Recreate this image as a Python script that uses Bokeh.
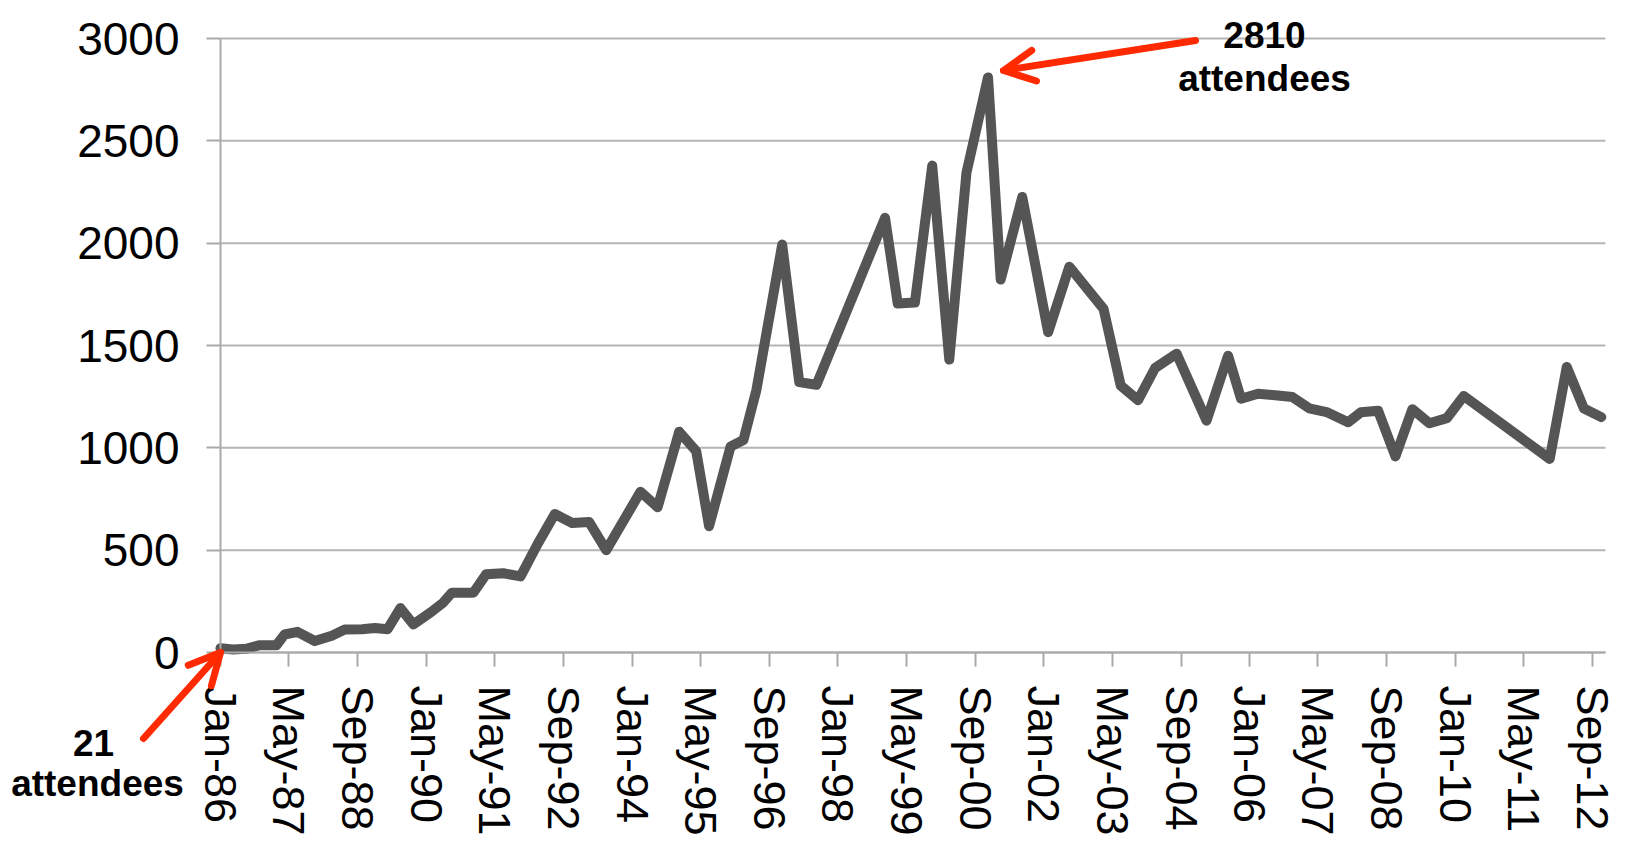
import pandas as pd
from bokeh.plotting import figure
from bokeh.models import (Range1d, FixedTicker, DatetimeTickFormatter, Arrow,
                          OpenHead, Label, ColumnDataSource)
from bokeh.embed import file_html
from bokeh.resources import INLINE

# ---------------- data ----------------
meeting_months = [
    "1986-01", "1986-04", "1986-07", "1986-10", "1987-02", "1987-04", "1987-07",
    "1987-11", "1988-03", "1988-06", "1988-10", "1989-01", "1989-04", "1989-07",
    "1989-10", "1990-02", "1990-05", "1990-07", "1990-12", "1991-03", "1991-07",
    "1991-11", "1992-03", "1992-07", "1992-11", "1993-03", "1993-07", "1994-03",
    "1994-07", "1994-12", "1995-04", "1995-07", "1995-12", "1996-03", "1996-06",
    "1996-12", "1997-04", "1997-08", "1998-12", "1999-03", "1999-07", "1999-11",
    "2000-03", "2000-07", "2000-12", "2001-03", "2001-08", "2002-02", "2002-07",
    "2003-03", "2003-07", "2003-11", "2004-03", "2004-08", "2005-03", "2005-08",
    "2005-11", "2006-03", "2006-07", "2006-11", "2007-03", "2007-07", "2007-12",
    "2008-03", "2008-07", "2008-11", "2009-03", "2009-07", "2009-11", "2010-03",
    "2011-11", "2012-03", "2012-07", "2012-11",
]
attendees = [
    21, 15, 18, 35, 35, 88, 101,
    56, 82, 112, 114, 120, 114, 217,
    138, 196, 244, 292, 292, 382, 387,
    372, 530, 677, 633, 638, 500, 785,
    710, 1079, 983, 617, 1007, 1038, 1283,
    1993, 1321, 1308, 2124, 1705, 1710, 2379,
    1431, 2344, 2810, 1822, 2226, 1565, 1885,
    1679, 1304, 1233, 1390, 1460, 1133, 1450,
    1240, 1264, 1257, 1248, 1193, 1175, 1125,
    1174, 1181, 958, 1189, 1120, 1145, 1253,
    946, 1395, 1192, 1150,
]
tick_labels = ["Jan-86", "May-87", "Sep-88", "Jan-90", "May-91", "Sep-92", "Jan-94",
               "May-95", "Sep-96", "Jan-98", "May-99", "Sep-00", "Jan-02", "May-03",
               "Sep-04", "Jan-06", "May-07", "Sep-08", "Jan-10", "May-11", "Sep-12"]
y_ticks = [0, 500, 1000, 1500, 2000, 2500, 3000]
x_axis_end = "2012-12"
peak_text = ["2810", "attendees"]
first_text = ["21", "attendees"]

# ---------------- build ----------------
dates = pd.to_datetime(meeting_months, format="%Y-%m")
tick_dates = pd.to_datetime(tick_labels, format="%b-%y")
EPOCH = pd.Timestamp("1970-01-01")


def to_ms(ts):
    return (pd.Timestamp(ts) - EPOCH) / pd.Timedelta(milliseconds=1)


x_start = to_ms(dates[0])
x_end = to_ms(pd.Timestamp(x_axis_end + "-01"))
y_start, y_end = y_ticks[0], y_ticks[-1]

# canvas and where the chart's axes sit on it (pixels)
W, H = 1629, 843
AX_L, AX_T, AX_W, AX_H = 220, 38, 1385, 614


def px2x(px):
    return x_start + (px - AX_L) / AX_W * (x_end - x_start)


def py2y(py):
    return y_start + (AX_T + AX_H - py) / AX_H * (y_end - y_start)


src = ColumnDataSource(dict(date=dates, att=attendees))
grid_src = ColumnDataSource(dict(y=y_ticks,
                                 x0=[x_start] * len(y_ticks),
                                 x1=[x_end] * len(y_ticks)))

p = figure(width=W, height=H, x_axis_type="datetime", title=None,
           x_range=Range1d(px2x(0), px2x(W)), y_range=Range1d(py2y(H), py2y(0)),
           output_backend="svg", toolbar_location=None,
           min_border=0, min_border_left=0, min_border_right=0,
           min_border_top=0, min_border_bottom=0)
p.outline_line_color = None
p.background_fill_color = "white"
p.border_fill_color = "white"

FONT = "Liberation Sans"
AXIS_GRAY = "#a9a9a9"
GRID_GRAY = "#b5b5b5"

p.xgrid.grid_line_color = None
p.ygrid.grid_line_color = None

# horizontal gridlines limited to the plot area (Jan-86 .. axis end)
p.segment(x0="x0", y0="y", x1="x1", y1="y", source=grid_src,
          line_color=GRID_GRAY, line_width=2)

xa = p.xaxis[0]
xa.fixed_location = y_start
xa.bounds = (x_start, x_end)
xa.ticker = FixedTicker(ticks=[to_ms(t) for t in tick_dates])
fmt = "%b-%y"
xa.formatter = DatetimeTickFormatter(days=fmt, months=fmt, years=fmt)
xa.major_label_orientation = "vertical"
xa.major_label_text_font = FONT
xa.major_label_text_font_size = "45px"
xa.major_label_text_color = "black"
xa.major_label_standoff = 19
xa.axis_line_color = AXIS_GRAY
xa.axis_line_width = 2
xa.major_tick_line_color = AXIS_GRAY
xa.major_tick_line_width = 2
xa.major_tick_out = 14
xa.major_tick_in = 0
xa.minor_tick_line_color = None

ya = p.yaxis[0]
ya.fixed_location = x_start
ya.bounds = (y_start, y_end)
ya.ticker = FixedTicker(ticks=y_ticks)
ya.major_label_text_font = FONT
ya.major_label_text_font_size = "46px"
ya.major_label_text_color = "black"
ya.major_label_standoff = 27
ya.axis_line_color = AXIS_GRAY
ya.axis_line_width = 2
ya.major_tick_line_color = AXIS_GRAY
ya.major_tick_line_width = 2
ya.major_tick_out = 14
ya.major_tick_in = 0
ya.minor_tick_line_color = None

p.line(x="date", y="att", source=src, line_color="#555555", line_width=10,
       line_join="round", line_cap="round")

RED = "#ff2a00"


def red_arrow(xs, ys, xe, ye):
    head = OpenHead(line_color=RED, line_width=7, size=31,
                    line_join="round", line_cap="round")
    p.add_layout(Arrow(end=head, x_start=xs, y_start=ys, x_end=xe, y_end=ye,
                       line_color=RED, line_width=7, line_cap="round"))


# arrow to the first meeting (origin) and to the peak
red_arrow(px2x(143), py2y(738), to_ms(dates[0]), 0)
red_arrow(px2x(1195), py2y(40), px2x(1003), py2y(70))


def add_label(px, py, text):
    p.add_layout(Label(x=px2x(px), y=py2y(py), text=text, text_align="center",
                       text_baseline="alphabetic", text_font=FONT,
                       text_font_style="bold", text_font_size="37px",
                       text_color="black"))


add_label(1264, 34, peak_text[0])
add_label(1264, 78, peak_text[1])
add_label(93, 742, first_text[0])
add_label(97, 783, first_text[1])

open("out.html", "w").write(file_html(p, INLINE))
